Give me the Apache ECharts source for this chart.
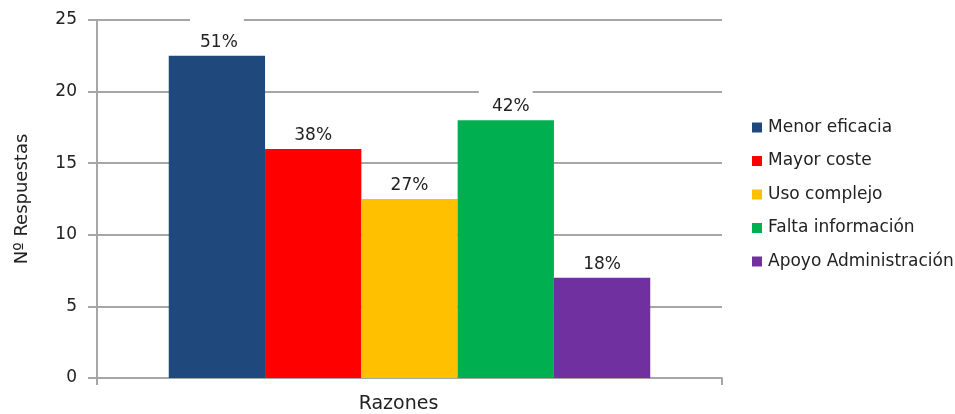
<!DOCTYPE html>
<html>
<head>
<meta charset="utf-8">
<script src="https://cdn.jsdelivr.net/npm/echarts@6/dist/echarts.min.js"></script>
<style>
  html, body { margin: 0; padding: 0; background: #fff; }
  #chart { width: 955px; height: 414px; }
</style>
</head>
<body>
<div id="chart"></div>
<script>
// Survey: reasons given, number of responses per reason
const categories = ['Razones'];
const seriesNames = ['Menor eficacia', 'Mayor coste', 'Uso complejo', 'Falta información', 'Apoyo Administración'];
const responses = [22.5, 16, 12.5, 18, 7];
const shareLabels = ['51%', '38%', '27%', '42%', '18%'];
const yTicks = [0, 5, 10, 15, 20, 25];

const colors = ['#1F497D', '#FF0000', '#FFC000', '#00B050', '#7030A0'];
const font = 'DejaVu Sans';

// a couple of labels sit on a white box that breaks the gridline behind them
const labelBoxes = {
  0: { backgroundColor: '#fff', padding: [16, 6, 0, 10] },
  3: { backgroundColor: '#fff', padding: [9, 3, 0, 13] }
};

const series = seriesNames.map((name, i) => ({
  name: name,
  type: 'bar',
  barWidth: 96.3,
  barGap: '0%',
  itemStyle: { color: colors[i] },
  label: Object.assign({
    show: true,
    position: 'top',
    distance: 5,
    fontFamily: font,
    fontSize: 17,
    color: '#222',
    formatter: () => shareLabels[i]
  }, labelBoxes[i] || {}),
  data: [responses[i]]
}));

const chart = echarts.init(document.getElementById('chart'));
chart.setOption({
  animation: false,
  backgroundColor: '#fff',
  grid: { left: 97, right: 233, top: 20, bottom: 36, containLabel: false },
  legend: {
    orient: 'vertical',
    left: 747,
    top: 114,
    itemWidth: 10,
    itemHeight: 10,
    itemGap: 16.5,
    icon: 'rect',
    textStyle: { fontFamily: font, fontSize: 17, color: '#222', padding: [0, 0, 0, 1] },
    data: seriesNames
  },
  xAxis: {
    type: 'category',
    data: categories,
    axisLine: { lineStyle: { color: '#a6a6a6', width: 2 } },
    axisTick: { show: true, length: 7, lineStyle: { color: '#a6a6a6', width: 2 } },
    axisLabel: { fontFamily: font, fontSize: 19, color: '#222', margin: 17, padding: [0, 22, 0, 0] }
  },
  yAxis: {
    type: 'value',
    min: yTicks[0],
    max: yTicks[yTicks.length - 1],
    interval: yTicks[1] - yTicks[0],
    name: 'Nº Respuestas',
    nameLocation: 'middle',
    nameGap: 66,
    nameRotate: 90,
    nameTextStyle: { fontFamily: font, fontSize: 18, color: '#222' },
    axisLine: { show: true, lineStyle: { color: '#a6a6a6', width: 2 } },
    axisTick: { show: true, length: 9, lineStyle: { color: '#a6a6a6', width: 2 } },
    axisLabel: { fontFamily: font, fontSize: 17, color: '#222', margin: 20 },
    splitLine: { show: true, lineStyle: { color: '#a6a6a6', width: 2 } }
  },
  series: series
});
</script>
</body>
</html>
